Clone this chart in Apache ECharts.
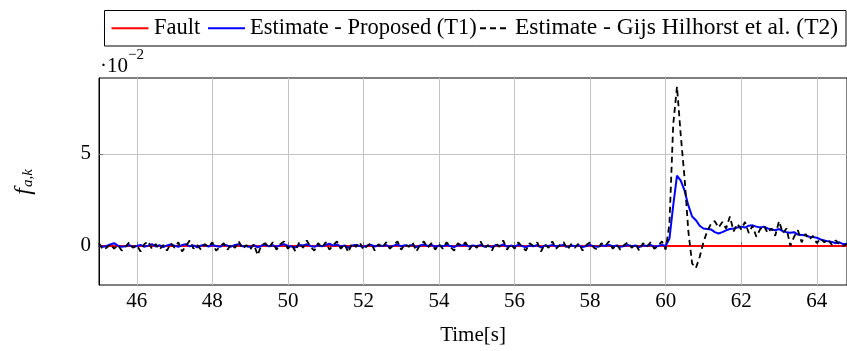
<!DOCTYPE html>
<html><head><meta charset="utf-8">
<script src="https://cdn.jsdelivr.net/npm/echarts@6/dist/echarts.min.js"></script>
<style>html,body{margin:0;padding:0;background:#fff}#c{width:847px;height:351px}</style>
</head><body><div id="c"></div>
<script>
// sampling grid of the estimates (seconds)
const tStart = 45.0;
const tStep = 0.1;

// Fault signal (x 1e-2)
const faultTime = [45.0, 64.8];
const faultValues = [0, 0];

// Estimate - Proposed (T1), x 1e-2, t = 45.0 ... 64.8 step 0.1
const proposedValues = [
  0.05, -0.05, 0.0, 0.08, 0.15, 0.02, -0.05, -0.02, 0.05, -0.06,
  0.0, 0.06, -0.04, 0.02, 0.1, -0.03, 0.04, -0.06, 0.03, 0.08,
  0.02, -0.05, 0.05, 0.1, -0.02, 0.03, -0.07, 0.02, 0.06, -0.03,
  0.05, 0.0, -0.05, 0.07, 0.02, -0.04, 0.05, 0.1, -0.02, 0.0,
  -0.06, 0.04, -0.08, 0.02, 0.06, -0.02, 0.04, -0.05, 0.05, 0.1,
  0.0, -0.03, -0.08, 0.05, 0.02, 0.09, 0.0, -0.05, 0.04, -0.02,
  0.05, 0.12, 0.02, 0.08, -0.04, 0.03, -0.1, 0.02, 0.05, 0.0,
  -0.04, 0.02, 0.06, -0.03, 0.04, 0.0, 0.05, -0.05, 0.02, 0.08,
  -0.02, 0.04, 0.0, 0.06, -0.06, 0.03, 0.08, 0.0, 0.05, -0.04,
  0.02, -0.02, 0.05, 0.0, -0.06, 0.04, 0.02, 0.07, -0.03, 0.03,
  -0.02, 0.05, -0.04, 0.02, -0.06, 0.05, 0.0, 0.08, -0.04, 0.02,
  -0.03, 0.06, 0.0, -0.07, 0.03, -0.02, 0.05, -0.08, 0.02, 0.0,
  0.06, -0.03, 0.02, 0.05, -0.05, 0.02, -0.02, 0.04, -0.06, 0.0,
  0.05, -0.02, -0.05, 0.04, 0.0, 0.06, -0.03, 0.02, -0.05, 0.0,
  0.05, -0.02, 0.03, -0.06, 0.04, 0.0, 0.05, -0.04, 0.0, 0.06,
  0.0,
  0.4, 2.2, 3.82, 3.55, 3.0, 2.2, 1.6, 1.4, 1.1,
  0.95, 0.92, 0.9, 0.75, 0.68, 0.75, 0.85, 0.92, 0.95, 1.0,
  1.05, 1.0, 1.1, 1.12, 1.05, 1.0, 1.05, 0.95, 0.9, 0.85,
  0.92, 0.8, 0.75, 0.72, 0.75, 0.62, 0.6, 0.58, 0.5, 0.48,
  0.45, 0.35, 0.3, 0.25, 0.22, 0.15, 0.2, 0.1, 0.12
];

// Estimate - Gijs Hilhorst et al. (T2), x 1e-2, t = 45.0 ... 64.8 step 0.1
const hilhorstValues = [
  0.15, -0.2, -0.1, 0.1, -0.15, 0.05, -0.25, -0.05, 0.2, -0.1,
  0.05, -0.3, 0.1, 0.25, -0.15, 0.1, -0.2, 0.05, -0.25, 0.15,
  -0.1, 0.2, -0.3, 0.0, 0.3, -0.15, 0.05, -0.2, 0.1, -0.05,
  0.2, -0.25, -0.05, 0.15, -0.2, 0.1, -0.1, 0.25, -0.15, 0.05,
  -0.2, 0.1, -0.5, 0.05, 0.15, -0.1, 0.2, -0.2, 0.1, 0.25,
  -0.15, 0.05, -0.3, 0.2, -0.1, 0.3, -0.05, -0.25, 0.15, -0.1,
  0.2, -0.2, 0.05, 0.25, -0.15, 0.1, -0.35, 0.15, -0.05, 0.2,
  -0.2, 0.0, 0.15, -0.25, 0.1, -0.1, 0.2, -0.15, 0.05, 0.25,
  -0.2, 0.1, -0.05, 0.2, -0.3, 0.05, 0.25, -0.1, 0.15, -0.2,
  0.1, -0.15, 0.2, -0.05, -0.25, 0.15, 0.0, 0.2, -0.2, 0.1,
  -0.1, 0.25, -0.15, 0.05, -0.25, 0.15, -0.05, 0.3, -0.2, 0.1,
  -0.15, 0.2, -0.05, -0.25, 0.15, 0.0, 0.2, -0.3, 0.1, -0.1,
  0.25, -0.15, 0.05, 0.2, -0.2, 0.1, -0.1, 0.15, -0.25, 0.05,
  0.2, -0.1, -0.2, 0.15, 0.0, 0.25, -0.15, 0.1, -0.2, 0.05,
  0.2, -0.1, 0.1, -0.25, 0.15, -0.05, 0.2, -0.15, 0.0, 0.25,
  -0.2,
  1.2, 6.6, 8.65, 6.0, 3.7, 0.8, -0.95, -1.2, -0.6,
  0.2, 0.8, 1.2, 1.35, 1.0, 1.3, 0.95, 1.6, 0.8, 1.2,
  0.9, 1.3, 0.7, 1.1, 0.5, 0.9, 1.1, 0.7, 0.95, 0.55,
  1.35, 0.7, 0.95, 0.0, 0.5, 0.85, 0.2, 0.65, 0.35, 0.55,
  0.15, 0.4, 0.2, 0.35, 0.05, 0.3, 0.1, 0.0, 0.1
];

const xTickValues = [46, 48, 50, 52, 54, 56, 58, 60, 62, 64];
const yTickValues = [0, 5];

const seriesNames = ['Fault', 'Estimate - Proposed (T1)', 'Estimate - Gijs Hilhorst et al. (T2)'];
const seriesColors = ['#ff0000', '#0000ff', '#000000'];

function withTime(values) {
  return values.map((v, i) => [Math.round((tStart + i * tStep) * 10) / 10, v]);
}
function withTimeFault() { return faultTime.map((t, i) => [t, faultValues[i]]); }

const serif = 'Liberation Serif';
const legendY = 28.3;
const legendText = (txt, x, size) => ({type: 'text', x: x, y: 27.6, silent: true,
  style: {text: txt, fontFamily: serif, fontSize: size, fill: '#000', align: 'left', verticalAlign: 'middle'}});

const chart = echarts.init(document.getElementById('c'), null, {renderer: 'canvas'});
chart.setOption({
  animation: false,
  backgroundColor: '#fff',
  grid: {left: 99, top: 78, width: 750, bottom: 65, show: true, borderColor: '#000', borderWidth: 1, containLabel: false},
  xAxis: {
    type: 'value', min: 45, max: 64.8,
    name: 'Time[s]', nameLocation: 'middle', nameGap: 40,
    nameTextStyle: {fontFamily: serif, fontSize: 21, color: '#000'},
    axisLine: {show: true, lineStyle: {color: '#000', width: 1}},
    axisTick: {show: true, inside: true, length: 4, lineStyle: {color: '#777'}, customValues: xTickValues},
    axisLabel: {fontFamily: serif, fontSize: 21, color: '#000', margin: 6, customValues: xTickValues},
    splitLine: {show: true, lineStyle: {color: '#c4c4c4', width: 1}}
  },
  yAxis: {
    type: 'value', min: -2.12, max: 9.12,
    axisLine: {show: true, lineStyle: {color: '#000', width: 1}},
    axisTick: {show: true, inside: true, length: 4, lineStyle: {color: '#777'}, customValues: yTickValues},
    axisLabel: {fontFamily: serif, fontSize: 21, color: '#000', margin: 8, customValues: yTickValues},
    splitLine: {show: true, lineStyle: {color: '#c4c4c4', width: 1}}
  },
  graphic: [
    // legend box
    {type: 'rect', silent: true, shape: {x: 104.5, y: 10.5, width: 741.5, height: 35.5},
     style: {fill: '#fff', stroke: '#000', lineWidth: 1}},
    {type: 'line', silent: true, shape: {x1: 111.5, y1: legendY, x2: 148.5, y2: legendY},
     style: {stroke: seriesColors[0], lineWidth: 2}},
    legendText(seriesNames[0], 154, 22.5),
    {type: 'line', silent: true, shape: {x1: 208, y1: legendY, x2: 245, y2: legendY},
     style: {stroke: seriesColors[1], lineWidth: 2}},
    legendText(seriesNames[1], 250, 22.5),
    {type: 'line', silent: true, shape: {x1: 480, y1: legendY, x2: 508, y2: legendY},
     style: {stroke: seriesColors[2], lineWidth: 2, lineDash: [6, 4]}},
    legendText(seriesNames[2], 515, 23.5),
    // axis multiplier
    {type: 'text', x: 100, y: 66, silent: true, style: {text: '·10', fontFamily: serif, fontSize: 21, fill: '#000', align: 'left', verticalAlign: 'middle'}},
    {type: 'text', x: 128, y: 55, silent: true, style: {text: '−2', fontFamily: serif, fontSize: 15, fill: '#000', align: 'left', verticalAlign: 'middle'}},
    // y axis title
    {type: 'text', x: 24, y: 182, rotation: Math.PI / 2, silent: true, style: {
      text: '{f|f}{s|a,k}',
      align: 'center', verticalAlign: 'middle',
      rich: {
        f: {fontFamily: serif, fontStyle: 'italic', fontSize: 24, fill: '#000'},
        s: {fontFamily: serif, fontStyle: 'italic', fontSize: 15, fill: '#000', padding: [8, 0, 0, 1]}
      }
    }}
  ],
  series: [
    {name: seriesNames[0], type: 'line', data: withTimeFault(), showSymbol: false, symbol: 'none',
     lineStyle: {color: seriesColors[0], width: 2}, itemStyle: {color: seriesColors[0]}, z: 2},
    {name: seriesNames[1], type: 'line', data: withTime(proposedValues), showSymbol: false, symbol: 'none',
     lineStyle: {color: seriesColors[1], width: 2}, itemStyle: {color: seriesColors[1]}, z: 3},
    {name: seriesNames[2], type: 'line', data: withTime(hilhorstValues), showSymbol: false, symbol: 'none',
     lineStyle: {color: seriesColors[2], width: 1.8, type: [6, 4]}, itemStyle: {color: seriesColors[2]}, z: 4}
  ]
});
</script>
</body></html>
